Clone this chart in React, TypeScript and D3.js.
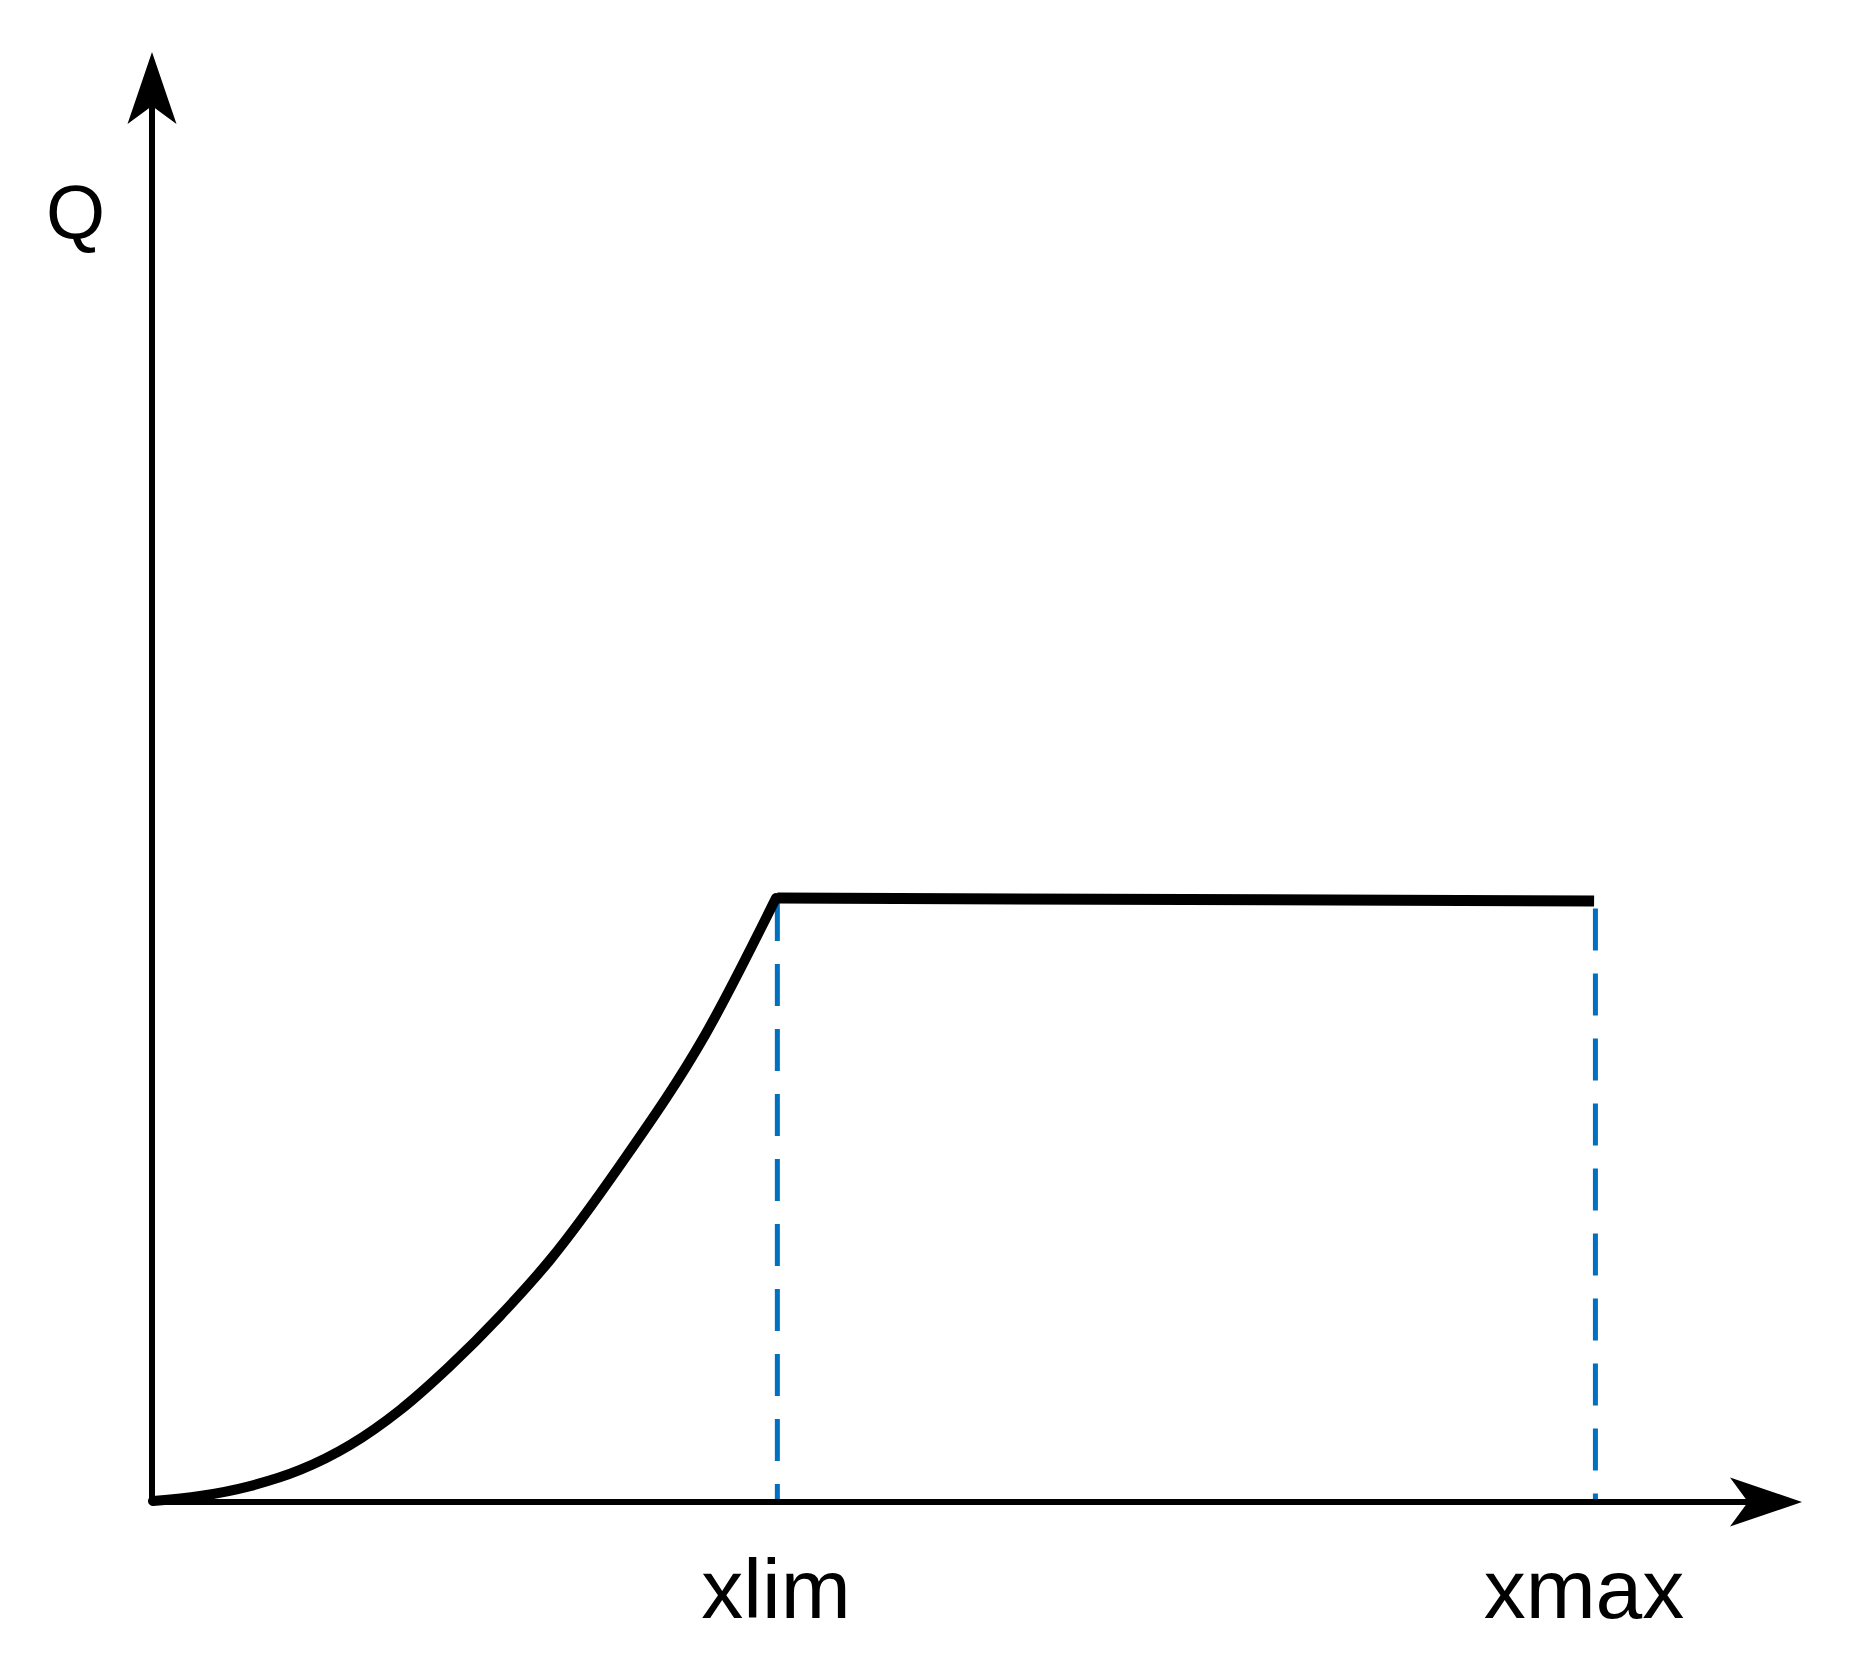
import React from "react";
import * as d3 from "d3";

// Rising part of Q(x) (abstract units, 0–100 on both axes)
const curveX = [0.06, 2.91, 5.94, 8.97, 12.0, 15.03, 18.06, 21.09, 24.12, 28.42, 33.52, 37.82];
const curveQ = [0.07, 0.41, 1.1, 2.21, 3.93, 6.34, 9.38, 12.83, 16.69, 23.31, 32.21, 41.66];
// Plateau
const flatX = [37.9, 87.4];
const flatQ = [41.65, 41.45];
// Marked positions
const markLabels = ["xlim", "xmax"];
const markX = [37.9, 87.48];
const markQ = [41.65, 41.0];
const axisLabelY = "Q";

const W = 1873;
const H = 1677;

export default function App() {
  const x = d3.scaleLinear().domain([0, 100]).range([152, 1802]);
  const y = d3.scaleLinear().domain([0, 100]).range([1502, 52]);

  const curvePts: [number, number][] = curveX.map((v, i) => [x(v), y(curveQ[i])]);
  const curvePath = d3.line().curve(d3.curveMonotoneX)(curvePts) || "";
  const flatPath =
    d3.line()(flatX.map((v, i) => [x(v), y(flatQ[i])] as [number, number])) || "";

  const x0 = x(0);
  const y0 = y(0);
  const xEnd = x(100);
  const yEnd = y(100);

  const arrowLen = 72;
  const arrowHalf = 24.5;
  const notch = 18;

  const yArrow = `M${x0},${yEnd} L${x0 + arrowHalf},${yEnd + arrowLen} L${x0},${yEnd + arrowLen - notch} L${x0 - arrowHalf},${yEnd + arrowLen} Z`;
  const xArrow = `M${xEnd},${y0} L${xEnd - arrowLen},${y0 + arrowHalf} L${xEnd - arrowLen + notch},${y0} L${xEnd - arrowLen},${y0 - arrowHalf} Z`;

  const font = "'Liberation Sans', Arial, sans-serif";

  return (
    <svg
      width={W}
      height={H}
      viewBox={`0 0 ${W} ${H}`}
      style={{ position: "absolute", left: 0, top: 0, background: "#fff" }}
    >
      <rect x={0} y={0} width={W} height={H} fill="#fff" />
      {/* dashed markers */}
      {markX.map((v, i) => (
        <line
          key={"d" + i}
          x1={x(v)}
          x2={x(v)}
          y1={y(markQ[i]) + 1}
          y2={y0}
          stroke="#0070c0"
          strokeWidth={5}
          strokeDasharray="42 23"
        />
      ))}
      {/* axes */}
      <line x1={x0} x2={x0} y1={y0 + 2} y2={yEnd + arrowLen - notch} stroke="#000" strokeWidth={6} />
      <line x1={x0 - 2} x2={xEnd - arrowLen + notch} y1={y0} y2={y0} stroke="#000" strokeWidth={6} />
      <path d={yArrow} fill="#000" />
      <path d={xArrow} fill="#000" />
      {/* curve */}
      <path d={curvePath} fill="none" stroke="#000" strokeWidth={10} strokeLinecap="round" />
      <path d={flatPath} fill="none" stroke="#000" strokeWidth={11} />
      {/* labels */}
      {markLabels.map((t, i) => (
        <text
          key={"t" + i}
          x={i === 0 ? 776 : 1584}
          y={1618}
          textAnchor="middle"
          fontFamily={font}
          fontSize={84}
          fill="#000"
        >
          {t}
        </text>
      ))}
      <text x={46} y={238} fontFamily={font} fontSize={76} fill="#000">
        {axisLabelY}
      </text>
    </svg>
  );
}
